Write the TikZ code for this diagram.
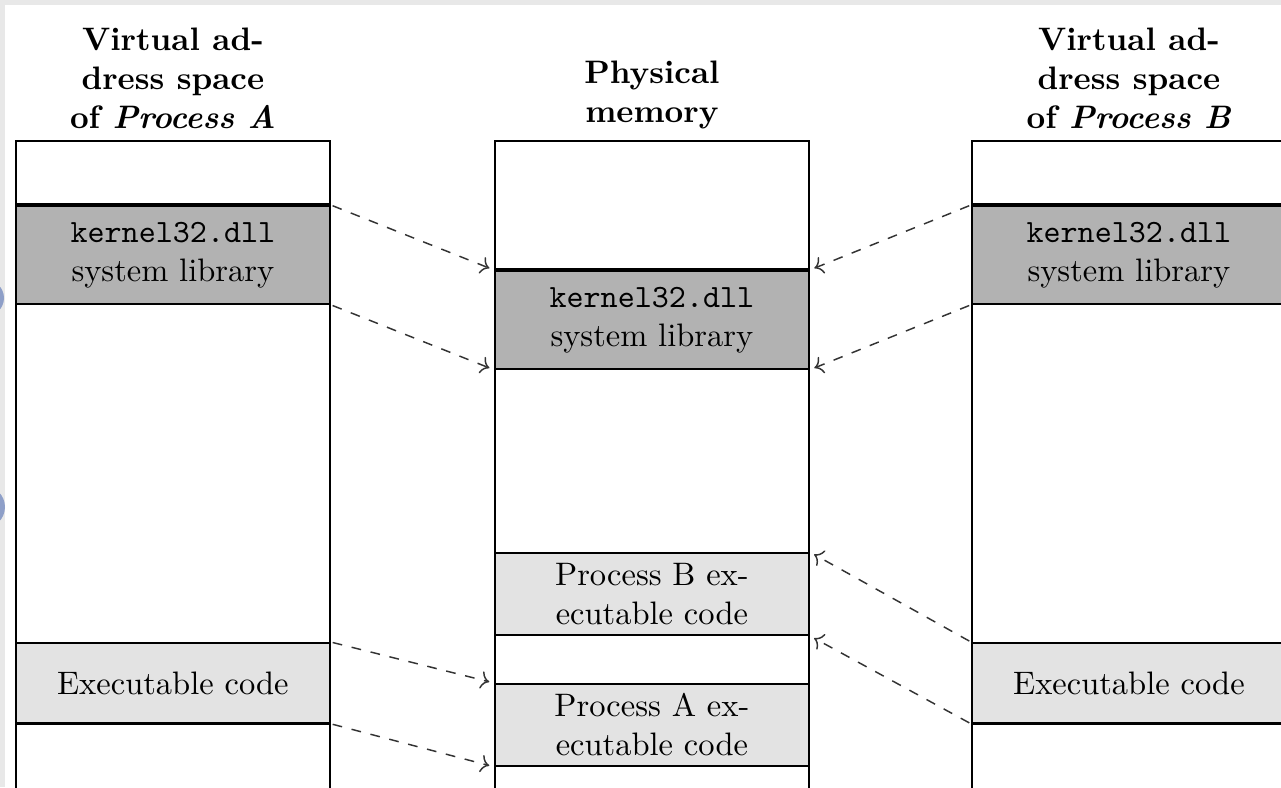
\documentclass[tikz,border=0pt]{standalone}
\usetikzlibrary{arrows.meta}

% one drawing unit
\newcommand\pxu{0.30769pt}

\definecolor{edgeblue}{RGB}{142,159,200}

\tikzset{
  seg/.style={draw, line width=0.55pt, anchor=north west,
    minimum width={314*\pxu}, inner sep=0pt, align=center},
  lib/.style={fill=black!30},
  code/.style={fill=black!11},
  blank/.style={fill=white},
  heavy/.style={line width=1pt},
  title/.style={font=\bfseries, align=center, anchor=south},
  conn/.style={dashed, line width=0.45pt, draw=black!80, ->,
    shorten >=1.5pt, shorten <=0.6pt},
}

% name, left x, top y, bottom y, look, text
\newcommand\memseg[6]{%
  \node[seg, #5, minimum height={(#4-#3)*\pxu}] (#1) at (#2,#3) {#6};}

\begin{document}
\begin{tikzpicture}[x=\pxu, y=-\pxu]
  \useasboundingbox (0,0) rectangle (1281,787);
  \clip (0,0) rectangle (1281,787);

  % window frame
  \fill[black!9] (0,0) rectangle (1281,787);
  \fill[white] (5,5) rectangle (1281,787);
  \begin{scope}
    \clip (0,5) rectangle (5,787);
    \fill[edgeblue] (-14,298) circle (18);
    \fill[edgeblue] (-16,507) circle (21);
  \end{scope}

  % virtual address space of process A
  \memseg{la0}{15}{140}{205}{blank}{}
  \memseg{lak}{15}{205}{303}{lib}{\texttt{kernel32.dll}\\system library}
  \memseg{la1}{15}{303}{642}{blank}{}
  \memseg{lax}{15}{642}{722}{code}{Executable code}
  \memseg{la2}{15}{722}{830}{blank}{}

  % physical memory
  \memseg{m0}{494}{140}{270}{blank}{}
  \memseg{mk}{494}{270}{368}{lib}{\texttt{kernel32.dll}\\system library}
  \memseg{m1}{494}{368}{552}{blank}{}
  \memseg{mb}{494}{552}{634}{code}{Process B ex-\\ecutable code}
  \memseg{m2}{494}{634}{683}{blank}{}
  \memseg{ma}{494}{683}{765}{code}{Process A ex-\\ecutable code}
  \memseg{m3}{494}{765}{830}{blank}{}

  % virtual address space of process B
  \memseg{rb0}{971}{140}{205}{blank}{}
  \memseg{rbk}{971}{205}{303}{lib}{\texttt{kernel32.dll}\\system library}
  \memseg{rb1}{971}{303}{642}{blank}{}
  \memseg{rbx}{971}{642}{722}{code}{Executable code}
  \memseg{rb2}{971}{722}{830}{blank}{}

  % heavier boundaries
  \draw[heavy] (lak.north west) -- (lak.north east);
  \draw[heavy] (lax.south west) -- (lax.south east);
  \draw[heavy] (mk.north west) -- (mk.north east);
  \draw[heavy] (rbk.north west) -- (rbk.north east);
  \draw[heavy] (rbx.south west) -- (rbx.south east);

  % column headings
  \node[title] (ta) at (la0.north) {Virtual ad-\\dress space\\of \textit{Process A}};
  \node[title] (tm) at (m0.north) {Physical\\memory};
  \node[title] (tb) at (rb0.north) {Virtual ad-\\dress space\\of \textit{Process B}};

  % page mappings
  \draw[conn] (lak.north east) -- (mk.north west);
  \draw[conn] (lak.south east) -- (mk.south west);
  \draw[conn] (lax.north east) -- (ma.north west);
  \draw[conn] (lax.south east) -- (ma.south west);
  \draw[conn] (rbk.north west) -- (mk.north east);
  \draw[conn] (rbk.south west) -- (mk.south east);
  \draw[conn] (rbx.north west) -- (mb.north east);
  \draw[conn] (rbx.south west) -- (mb.south east);
\end{tikzpicture}
\end{document}
